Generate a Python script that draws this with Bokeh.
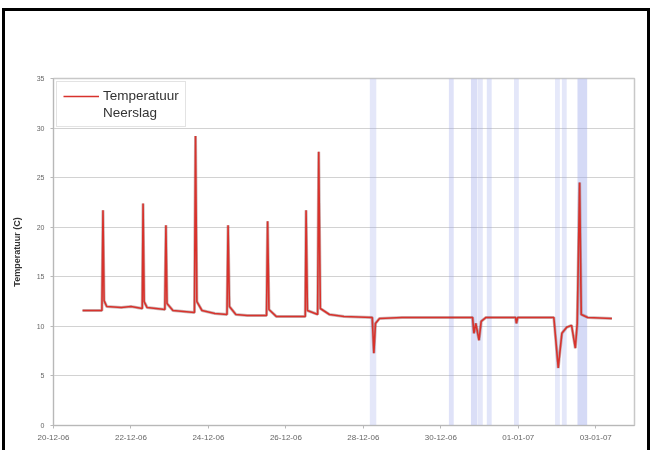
import pandas as pd
from bokeh.plotting import figure
from bokeh.models import (ColumnDataSource, Range1d, FixedTicker, Legend, LegendItem)
from bokeh.embed import file_html
from bokeh.resources import INLINE

# ---------------- data ----------------
temp_tijd = [
    "2006-12-20 18:00", "2006-12-21 06:00", "2006-12-21 06:40", "2006-12-21 07:20",
    "2006-12-21 09:00", "2006-12-21 18:00", "2006-12-22 00:00", "2006-12-22 07:00",
    "2006-12-22 07:30", "2006-12-22 08:10", "2006-12-22 10:00", "2006-12-22 21:00",
    "2006-12-22 21:40", "2006-12-22 22:20", "2006-12-23 02:00", "2006-12-23 15:20",
    "2006-12-23 16:00", "2006-12-23 16:50", "2006-12-23 20:00", "2006-12-24 04:00",
    "2006-12-24 11:30", "2006-12-24 12:10", "2006-12-24 13:00", "2006-12-24 17:00",
    "2006-12-25 00:00", "2006-12-25 12:00", "2006-12-25 12:40", "2006-12-25 13:30",
    "2006-12-25 18:00", "2006-12-26 06:00", "2006-12-26 12:00", "2006-12-26 12:30",
    "2006-12-26 13:20", "2006-12-26 19:40", "2006-12-26 20:20", "2006-12-26 21:20",
    "2006-12-27 03:00", "2006-12-27 12:00", "2006-12-28 05:30", "2006-12-28 06:30",
    "2006-12-28 07:30", "2006-12-28 10:00", "2006-12-29 00:00", "2006-12-30 12:00",
    "2006-12-30 19:40", "2006-12-30 20:30", "2006-12-30 21:40", "2006-12-30 23:40",
    "2006-12-31 01:00", "2006-12-31 04:00", "2006-12-31 22:20", "2006-12-31 22:50",
    "2006-12-31 23:40", "2007-01-01 12:00", "2007-01-01 22:00", "2007-01-02 00:45",
    "2007-01-02 03:00", "2007-01-02 06:00", "2007-01-02 09:00", "2007-01-02 11:20",
    "2007-01-02 12:30", "2007-01-02 14:00", "2007-01-02 15:00", "2007-01-02 19:00",
    "2007-01-03 10:00",
]
temp_waarde = [
    11.6, 11.6, 21.7, 12.6,
    12.0, 11.9, 12.0, 11.8,
    22.4, 12.5, 11.9, 11.7,
    20.2, 12.3, 11.6, 11.4,
    29.2, 12.5, 11.6, 11.3,
    11.2, 20.2, 12.0, 11.2,
    11.1, 11.1, 20.6, 11.7,
    11.0, 11.0, 11.0, 21.7,
    11.6, 11.2, 27.6, 11.8,
    11.2, 11.0, 10.9, 7.3,
    10.3, 10.8, 10.9, 10.9,
    10.9, 9.3, 10.3, 8.6,
    10.5, 10.9, 10.9, 10.3,
    10.9, 10.9, 10.9, 5.8,
    9.3, 9.9, 10.1, 7.8,
    10.3, 24.5, 11.2, 10.9,
    10.8,
]

neerslag_tijd = [
    "2006-12-28 06:00", "2006-12-30 06:30", "2006-12-30 20:40", "2006-12-31 00:30",
    "2006-12-31 06:00", "2006-12-31 22:50", "2007-01-02 00:15", "2007-01-02 04:30",
    "2007-01-02 15:40",
]
neerslag_duur_uur = [4, 3, 4, 3, 3, 3, 3, 3, 6]
neerslag_mm = [0.6, 0.8, 1.0, 0.6, 0.7, 0.6, 0.5, 0.6, 1.2]

x_tick_tijd = ["2006-12-20", "2006-12-22", "2006-12-24", "2006-12-26",
               "2006-12-28", "2006-12-30", "2007-01-01", "2007-01-03"]
x_tick_labels = ["20-12-06", "22-12-06", "24-12-06", "26-12-06",
                 "28-12-06", "30-12-06", "01-01-07", "03-01-07"]
y_ticks = [0, 5, 10, 15, 20, 25, 30, 35]

# ---------------- figure ----------------
FONT = "Liberation Sans"
x0 = pd.Timestamp("2006-12-20")
x1 = pd.Timestamp("2007-01-04")

p = figure(width=648, height=445, output_backend="svg", toolbar_location=None,
           x_axis_type="datetime",
           x_range=Range1d(x0, x1), y_range=Range1d(0, 35),
           min_border_left=48, min_border_right=19, min_border_top=67,
           min_border_bottom=31)
p.styles = {"border": "3px solid black", "box-sizing": "border-box",
            "position": "fixed", "top": "8px", "left": "2px"}

p.background_fill_color = "white"
p.border_fill_color = "white"
p.outline_line_color = "#c8c8c8"
p.outline_line_width = 1.5

# neerslag bands on a secondary range
p.extra_y_ranges = {"neerslag": Range1d(0, 0.5)}
ns = ColumnDataSource(dict(
    x=pd.to_datetime(neerslag_tijd),
    w=[d * 3600 * 1000 for d in neerslag_duur_uur],
    top=neerslag_mm,
    alpha=[min(0.45, 0.12 + 0.25 * m) for m in neerslag_mm],
))
r_ns = p.vbar(x="x", width="w", top="top", bottom=0, source=ns,
              y_range_name="neerslag", fill_color="#9aa6ea", fill_alpha="alpha",
              line_color=None)

ts = ColumnDataSource(dict(x=pd.to_datetime(temp_tijd), y=temp_waarde))
p.line("x", "y", source=ts, line_color="#6b2a2a", line_width=3.0, line_alpha=0.35)
r_t = p.line("x", "y", source=ts, line_color="#d8322c", line_width=1.6)

r_leg = p.line([], [], line_color="#c8dce6", line_width=2)

p.xaxis.ticker = FixedTicker(ticks=[pd.Timestamp(t).value / 1e6 for t in x_tick_tijd])
p.xaxis.major_label_overrides = {pd.Timestamp(t).value / 1e6: lab
                                 for t, lab in zip(x_tick_tijd, x_tick_labels)}
p.yaxis.ticker = FixedTicker(ticks=y_ticks)
for ax in (p.xaxis[0], p.yaxis[0]):
    ax.axis_line_color = "#b8b8b8"
    ax.major_tick_line_color = "#b8b8b8"
    ax.major_tick_in = 0
    ax.major_tick_out = 3
    ax.minor_tick_line_color = None
    ax.major_label_text_font = FONT
    ax.major_label_text_color = "#666666"
p.xaxis.major_label_text_font_size = "8px"
p.yaxis.major_label_text_font_size = "7px"
p.xaxis.major_label_standoff = 6
p.yaxis.major_label_standoff = 6
p.yaxis.axis_label = "Temperatuur (C)"
p.yaxis.axis_label_text_font = FONT
p.yaxis.axis_label_text_font_size = "9px"
p.yaxis.axis_label_text_font_style = "bold"
p.yaxis.axis_label_text_color = "#333333"
p.yaxis.axis_label_standoff = 12

p.xgrid.grid_line_color = None
p.ygrid.grid_line_color = "#d2d2d2"
p.ygrid.grid_line_width = 1

legend = Legend(items=[LegendItem(label="Temperatuur", renderers=[r_t]),
                       LegendItem(label="Neerslag", renderers=[r_leg])],
                location="top_left")
legend.label_text_font = FONT
legend.label_text_font_size = "13.5px"
legend.label_text_color = "#333333"
legend.border_line_color = "#c8c8c8"
legend.background_fill_alpha = 1.0
legend.glyph_width = 36
legend.glyph_height = 14
legend.label_height = 14
legend.label_standoff = 4
legend.spacing = 2
legend.padding = 6
legend.margin = 3
p.add_layout(legend)

open("out.html", "w").write(file_html(p, INLINE))
